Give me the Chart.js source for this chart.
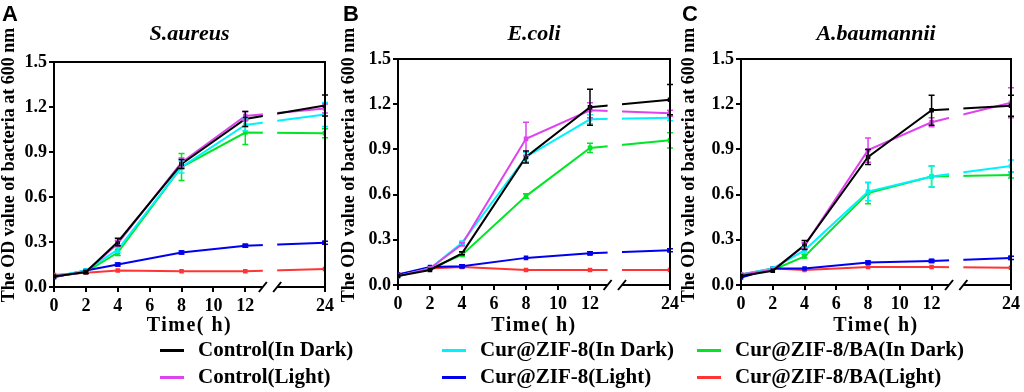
<!DOCTYPE html>
<html>
<head>
<meta charset="utf-8">
<script src="https://cdn.jsdelivr.net/npm/chart.js@4.4.0/dist/chart.umd.min.js"></script>
<style>
  body { margin: 0; background: #fff; width: 1024px; height: 392px; overflow: hidden; position: relative; }
  canvas { position: absolute; left: 0; top: 0; }
  .lgline { position: absolute; height: 3px; }
  .lgtext { position: absolute; font-family: "Liberation Serif", "Times New Roman", serif; font-weight: bold; font-size: 21px; line-height: 24px; white-space: nowrap; color: #000; }
</style>
</head>
<body>
<canvas id="chartA" width="1024" height="392"></canvas>
<canvas id="chartB" width="1024" height="392"></canvas>
<canvas id="chartC" width="1024" height="392"></canvas>
<div id="legend"></div>
<script>
// time points (h) and tick labels
const times = [0, 2, 4, 8, 12, 24];
const xTicks = [0, 2, 4, 6, 8, 10, 12, 24];
const yTicks = [0, 0.3, 0.6, 0.9, 1.2, 1.5];

const seriesNames = ['Control(In Dark)', 'Control(Light)', 'Cur@ZIF-8(In Dark)', 'Cur@ZIF-8(Light)', 'Cur@ZIF-8/BA(In Dark)', 'Cur@ZIF-8/BA(Light)'];
const seriesColors = ['#000000', '#dd44ee', '#00f2ff', '#0000ee', '#00e626', '#ff3535'];

// S.aureus
const saCtrlDark = [0.07, 0.10, 0.30, 0.82, 1.12, 1.21];
const saCtrlDarkErr = [0.005, 0.01, 0.025, 0.03, 0.05, 0.07];
const saCtrlLight = [0.07, 0.10, 0.29, 0.83, 1.14, 1.19];
const saCtrlLightErr = [0.005, 0.005, 0.02, 0.03, 0.03, 0.03];
const saZifDark = [0.07, 0.11, 0.25, 0.80, 1.08, 1.15];
const saZifDarkErr = [0.005, 0.005, 0.02, 0.04, 0.04, 0.08];
const saZifLight = [0.065, 0.11, 0.15, 0.23, 0.275, 0.295];
const saZifLightErr = [0.005, 0.005, 0.01, 0.01, 0.01, 0.01];
const saBaDark = [0.07, 0.10, 0.23, 0.80, 1.03, 1.025];
const saBaDarkErr = [0.005, 0.005, 0.02, 0.09, 0.08, 0.03];
const saBaLight = [0.08, 0.095, 0.11, 0.105, 0.105, 0.12];
const saBaLightErr = [0.005, 0.005, 0.005, 0.005, 0.005, 0.005];

// E.coli
const ecCtrlDark = [0.06, 0.10, 0.21, 0.85, 1.18, 1.23];
const ecCtrlDarkErr = [0.005, 0.005, 0.01, 0.04, 0.12, 0.10];
const ecCtrlLight = [0.06, 0.11, 0.27, 0.97, 1.16, 1.14];
const ecCtrlLightErr = [0.005, 0.005, 0.01, 0.11, 0.05, 0.02];
const ecZifDark = [0.06, 0.11, 0.28, 0.85, 1.10, 1.11];
const ecZifDarkErr = [0.005, 0.005, 0.01, 0.03, 0.03, 0.02];
const ecZifLight = [0.07, 0.12, 0.125, 0.18, 0.21, 0.23];
const ecZifLightErr = [0.005, 0.005, 0.01, 0.005, 0.01, 0.01];
const ecBaDark = [0.06, 0.11, 0.20, 0.59, 0.91, 0.96];
const ecBaDarkErr = [0.005, 0.005, 0.01, 0.015, 0.03, 0.05];
const ecBaLight = [0.07, 0.11, 0.12, 0.10, 0.10, 0.10];
const ecBaLightErr = [0.005, 0.005, 0.005, 0.005, 0.005, 0.005];

// A.baumannii
const abCtrlDark = [0.06, 0.095, 0.265, 0.85, 1.16, 1.19];
const abCtrlDarkErr = [0.005, 0.005, 0.03, 0.05, 0.10, 0.07];
const abCtrlLight = [0.07, 0.10, 0.26, 0.895, 1.08, 1.21];
const abCtrlLightErr = [0.005, 0.005, 0.02, 0.08, 0.03, 0.10];
const abZifDark = [0.07, 0.11, 0.23, 0.62, 0.72, 0.79];
const abZifDarkErr = [0.005, 0.005, 0.02, 0.06, 0.07, 0.04];
const abZifLight = [0.05, 0.11, 0.11, 0.15, 0.16, 0.18];
const abZifLightErr = [0.005, 0.005, 0.005, 0.01, 0.01, 0.01];
const abBaDark = [0.07, 0.10, 0.19, 0.61, 0.72, 0.73];
const abBaDarkErr = [0.005, 0.005, 0.01, 0.07, 0.07, 0.02];
const abBaLight = [0.07, 0.11, 0.10, 0.12, 0.12, 0.115];
const abBaLightErr = [0.005, 0.005, 0.005, 0.005, 0.005, 0.005];

// axis break: 12..24 h squeezed into 5 units
function pos(t) {
  return t <= 12 ? t : 12 + (t - 12) * 5 / 12;
}
const breakFrom = 13.1, breakTo = 14.0;

const FONT = '"Liberation Serif", "Times New Roman", serif';

// panel boxes (pixels of the chart area)
const panels = [
  { id: 'chartA', letter: 'A', title: 'S.aureus', left: 54, right: 325, top: 62, bottom: 287, yTitleX: 9, letterX: 2,
    values: [saCtrlDark, saCtrlLight, saZifDark, saZifLight, saBaDark, saBaLight],
    errs: [saCtrlDarkErr, saCtrlLightErr, saZifDarkErr, saZifLightErr, saBaDarkErr, saBaLightErr] },
  { id: 'chartB', letter: 'B', title: 'E.coli', left: 398, right: 670, top: 59, bottom: 285, yTitleX: 349, letterX: 343,
    values: [ecCtrlDark, ecCtrlLight, ecZifDark, ecZifLight, ecBaDark, ecBaLight],
    errs: [ecCtrlDarkErr, ecCtrlLightErr, ecZifDarkErr, ecZifLightErr, ecBaDarkErr, ecBaLightErr] },
  { id: 'chartC', letter: 'C', title: 'A.baumannii', left: 741, right: 1013, top: 59, bottom: 285, yTitleX: 689, letterX: 682,
    values: [abCtrlDark, abCtrlLight, abZifDark, abZifLight, abBaDark, abBaLight],
    errs: [abCtrlDarkErr, abCtrlLightErr, abZifDarkErr, abZifLightErr, abBaDarkErr, abBaLightErr] }
];

// error bars, drawn after the lines
const errorBars = {
  id: 'errorBars',
  afterDatasetsDraw(chart) {
    const ctx = chart.ctx;
    const xs = chart.scales.x, ys = chart.scales.y;
    chart.data.datasets.slice().reverse().forEach(ds => {
      ctx.save();
      ctx.strokeStyle = ds.borderColor;
      ctx.lineWidth = 1.5;
      ds.data.forEach((p, i) => {
        const e = ds.errs[i];
        if (!e || e < 0.008) return;
        const x = xs.getPixelForValue(p.x);
        const y1 = ys.getPixelForValue(p.y + e), y2 = ys.getPixelForValue(p.y - e);
        ctx.beginPath();
        ctx.moveTo(x, y1); ctx.lineTo(x, y2);
        ctx.moveTo(x - 3, y1); ctx.lineTo(x + 3, y1);
        ctx.moveTo(x - 3, y2); ctx.lineTo(x + 3, y2);
        ctx.stroke();
      });
      ctx.restore();
    });
  }
};

// frame, axis break, titles
const decor = {
  id: 'decor',
  afterDraw(chart) {
    const ctx = chart.ctx;
    const a = chart.chartArea;
    const xs = chart.scales.x;
    const p = chart.options.plugins.decor;
    const b1 = xs.getPixelForValue(breakFrom), b2 = xs.getPixelForValue(breakTo);
    ctx.save();
    ctx.fillStyle = '#fff';
    ctx.fillRect(b1, a.top + 2, b2 - b1, a.bottom - a.top + 2);
    ctx.strokeStyle = '#000';
    ctx.lineWidth = 2;
    ctx.beginPath();
    ctx.moveTo(a.left - 1, a.top); ctx.lineTo(a.right, a.top); ctx.lineTo(a.right, a.bottom + 1);
    ctx.stroke();
    ctx.beginPath();
    [b1, b2].forEach(x => { ctx.moveTo(x - 4, a.bottom + 5); ctx.lineTo(x + 4, a.bottom - 5); });
    ctx.stroke();

    ctx.fillStyle = '#000';
    ctx.textAlign = 'center';
    ctx.textBaseline = 'alphabetic';
    ctx.font = 'italic bold 22px ' + FONT;
    ctx.fillText(p.title, (a.left + a.right) / 2, 40);
    ctx.font = 'bold 20px ' + FONT;
    ctx.textBaseline = 'middle';
    ctx.letterSpacing = '1.5px';
    ctx.fillText('Time( h)', (a.left + a.right) / 2, 326);
    ctx.letterSpacing = '0px';
    ctx.save();
    ctx.translate(p.yTitleX, 165);
    ctx.rotate(-Math.PI / 2);
    ctx.font = 'bold 18px ' + FONT;
    ctx.fillText('The OD value of bacteria at 600 nm', 0, 0);
    ctx.restore();
    ctx.textAlign = 'left';
    ctx.textBaseline = 'alphabetic';
    ctx.font = 'bold 22px "Liberation Sans", Arial, sans-serif';
    ctx.fillText(p.letter, p.letterX, 21);
    ctx.restore();
  }
};

function makeChart(panel) {
  const datasets = panel.values.map((vals, i) => ({
    label: seriesNames[i],
    data: times.map((t, j) => ({ x: pos(t), y: vals[j] })),
    errs: panel.errs[i],
    borderColor: seriesColors[i],
    backgroundColor: seriesColors[i],
    borderWidth: 2,
    pointStyle: 'rect',
    pointRadius: 1.8,
    tension: 0
  }));
  const tickFont = { family: FONT, weight: 'bold', size: 18 };
  new Chart(document.getElementById(panel.id), {
    type: 'line',
    data: { datasets },
    plugins: [errorBars, decor],
    options: {
      responsive: false,
      animation: false,
      layout: { padding: { left: panel.left - 50, right: 1024 - panel.right, top: panel.top, bottom: 392 - panel.bottom - 40 } },
      plugins: {
        legend: { display: false },
        title: { display: false },
        tooltip: { enabled: false },
        decor: { title: panel.title, letter: panel.letter, yTitleX: panel.yTitleX, letterX: panel.letterX }
      },
      scales: {
        x: {
          type: 'linear', min: 0, max: pos(24),
          afterBuildTicks: s => { s.ticks = xTicks.map(t => ({ value: pos(t) })); },
          afterFit: s => { s.height = 40; },
          grid: { display: true, drawOnChartArea: false, drawTicks: true, tickLength: 5, color: '#000', lineWidth: 2 },
          border: { display: true, color: '#000', width: 2 },
          ticks: { color: '#000', font: tickFont, padding: 4, maxRotation: 0, autoSkip: false, callback: (v, i) => String(xTicks[i]) }
        },
        y: {
          min: 0, max: 1.5,
          afterBuildTicks: s => { s.ticks = yTicks.map(v => ({ value: v })); },
          afterFit: s => { s.width = 50; },
          grid: { display: true, drawOnChartArea: false, drawTicks: true, tickLength: 5, color: '#000', lineWidth: 2 },
          border: { display: true, color: '#000', width: 2 },
          ticks: { color: '#000', font: tickFont, padding: 2, callback: v => v.toFixed(1) }
        }
      }
    }
  });
}

panels.forEach(makeChart);

// legend below the panels, column by column
const legendCols = [160, 442, 697];
const legendRows = [350, 377];
const legend = document.getElementById('legend');
seriesNames.forEach((name, i) => {
  const x = legendCols[Math.floor(i / 2)], y = legendRows[i % 2];
  const line = document.createElement('div');
  line.className = 'lgline';
  line.style.left = x + 'px';
  line.style.top = (y - 1.5) + 'px';
  line.style.width = '24px';
  line.style.background = seriesColors[i];
  legend.appendChild(line);
  const txt = document.createElement('div');
  txt.className = 'lgtext';
  txt.style.left = (x + 38) + 'px';
  txt.style.top = (y - 13) + 'px';
  txt.textContent = name;
  legend.appendChild(txt);
});
</script>
</body>
</html>
